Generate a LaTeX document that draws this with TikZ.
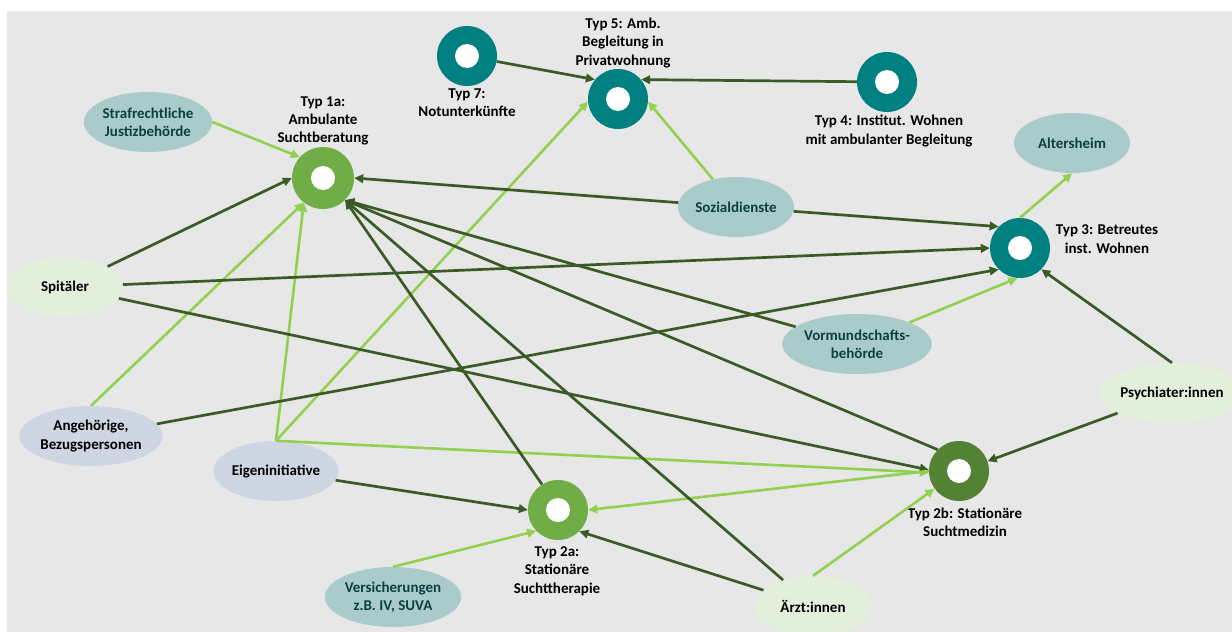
\documentclass[tikz,border=0pt]{standalone}
\usepackage{fontspec}
\setmainfont{Carlito}
\usetikzlibrary{shapes.geometric,arrows.meta}
\definecolor{bgc}{HTML}{E7E7E7}
\definecolor{tealring}{HTML}{008080}
\definecolor{lgring}{HTML}{70AD47}
\definecolor{dgring}{HTML}{548235}
\definecolor{elteal}{HTML}{A9CBCB}
\definecolor{eltealtext}{HTML}{0E3F3F}
\definecolor{ellg}{HTML}{E2EFDA}
\definecolor{elbg}{HTML}{CFD6E3}
\definecolor{darkln}{HTML}{3A5A26}
\definecolor{lightln}{HTML}{92D050}
\tikzset{
  txt/.style={font=\fontsize{15}{18.3}\selectfont\bfseries, align=center},
  ring/.style={circle, fill=#1, minimum size=60pt, inner sep=0pt,
    path picture={\fill[white] (path picture bounding box.center) circle (12pt);}},
  oval/.style={ellipse, fill=#1, minimum width=116pt, minimum height=60pt, inner sep=0pt, txt},
  tealoval/.style={oval=elteal, text=eltealtext},
  greenoval/.style={oval=ellg},
  blueoval/.style={oval=elbg},
  lbl/.style={txt, inner sep=0pt},
  dk/.style={draw=darkln, line width=2.7pt, -{Triangle[length=9pt,width=8.5pt]}},
  lt/.style={draw=lightln, line width=2.6pt, -{Triangle[length=9pt,width=8.5pt]}},
}
\begin{document}
\begin{tikzpicture}[x=1pt,y=-1pt]
\useasboundingbox (0,0) rectangle (1232,632);
\fill[bgc] (7,11) rectangle (1232,632);

% rings
\node[ring=lgring, minimum size=62pt] (t1a) at (323,178) {};
\node[ring=tealring] (t7) at (467,56) {};
\node[ring=tealring] (t5) at (618,99) {};
\node[ring=tealring] (t4) at (887,82) {};
\node[ring=tealring] (t3) at (1020,248) {};
\node[ring=dgring] (t2b) at (959,471) {};
\node[ring=lgring] (t2a) at (558,510) {};

% ring labels
\node[lbl] (l1a) at (323,121) {Typ 1a:\\Ambulante\\Suchtberatung};
\node[lbl] (l7) at (467,103) {Typ 7:\\Notunterkünfte};
\node[lbl] (l5) at (623,43) {Typ 5: Amb.\\Begleitung in\\Privatwohnung};
\node[lbl] (l4) at (889,131) {Typ 4: Institut. Wohnen\\mit ambulanter Begleitung};
\node[lbl] (l3) at (1107,239) {Typ 3: Betreutes\\inst. Wohnen};
\node[lbl] (l2b) at (965,522) {Typ 2b: Stationäre\\Suchtmedizin};
\node[lbl] (l2a) at (557,571) {Typ 2a:\\Stationäre\\Suchttherapie};

% ovals
\node[tealoval] (straf) at (148,122) {Strafrechtliche\\Justizbehörde};
\node[greenoval] (spit) at (65,287) {Spitäler};
\node[tealoval] (sozial) at (736,207) {Sozialdienste};
\node[tealoval] (alters) at (1072,143) {Altersheim};
\node[tealoval] (vormund) at (857,344) {Vormundschafts-\\behörde};
\node[greenoval] (psych) at (1172,393) {Psychiater:innen};
\node[greenoval] (aerzt) at (813,606) {Ärzt:innen};
\node[tealoval] (versich) at (393,597) {Versicherungen\\z.B. IV, SUVA};
\node[blueoval] (eigen) at (276,471) {Eigeninitiative};
\node[blueoval] (angeh) at (91,436) {Angehörige,\\Bezugspersonen};

% connectors
\draw[lt] (straf.east) -- (t1a.138);
\draw[dk] (spit) -- (t1a.west);
\draw[lt] (angeh.north) -- (t1a.232);
\draw[lt] (eigen.north) -- (t1a.232);
\draw[lt] (eigen.north) -- (t5.185);
\draw[lt] (eigen.north) -- (t2b.183);
\draw[dk] (eigen) -- (t2a.west);
\draw[dk] (spit) -- (t3.west);
\draw[dk] (spit) -- (t2b.178);
\draw[dk] (angeh) -- (t3.225);
\draw[dk] (sozial) -- (t1a.east);
\draw[dk] (sozial) -- (t3.135);
\draw[lt] (sozial) -- (t5.-5);
\draw[dk] (t7) -- (t5.140);
\draw[dk] (t4) -- (t5.40);
\draw[lt] (t3.north) -- (alters.south);
\draw[lt] (vormund) -- (t3.265);
\draw[dk] (vormund) -- (t1a.-45);
\draw[dk] (psych.north) -- (t3.-45);
\draw[dk] (psych) -- (t2b.19);
\draw[dk] (t2b.135) -- (t1a.-45);
\draw[lt] (t2b.west) -- (t2a.east);
\draw[lt] (aerzt.north) -- (t2b.216);
\draw[dk] (aerzt) -- (t2a.-45);
\draw[dk] (aerzt) -- (t1a.-45);
\draw[dk] (t2a.122) -- (t1a.-45);
\draw[lt] (versich.north) -- (t2a.224);
\end{tikzpicture}
\end{document}
